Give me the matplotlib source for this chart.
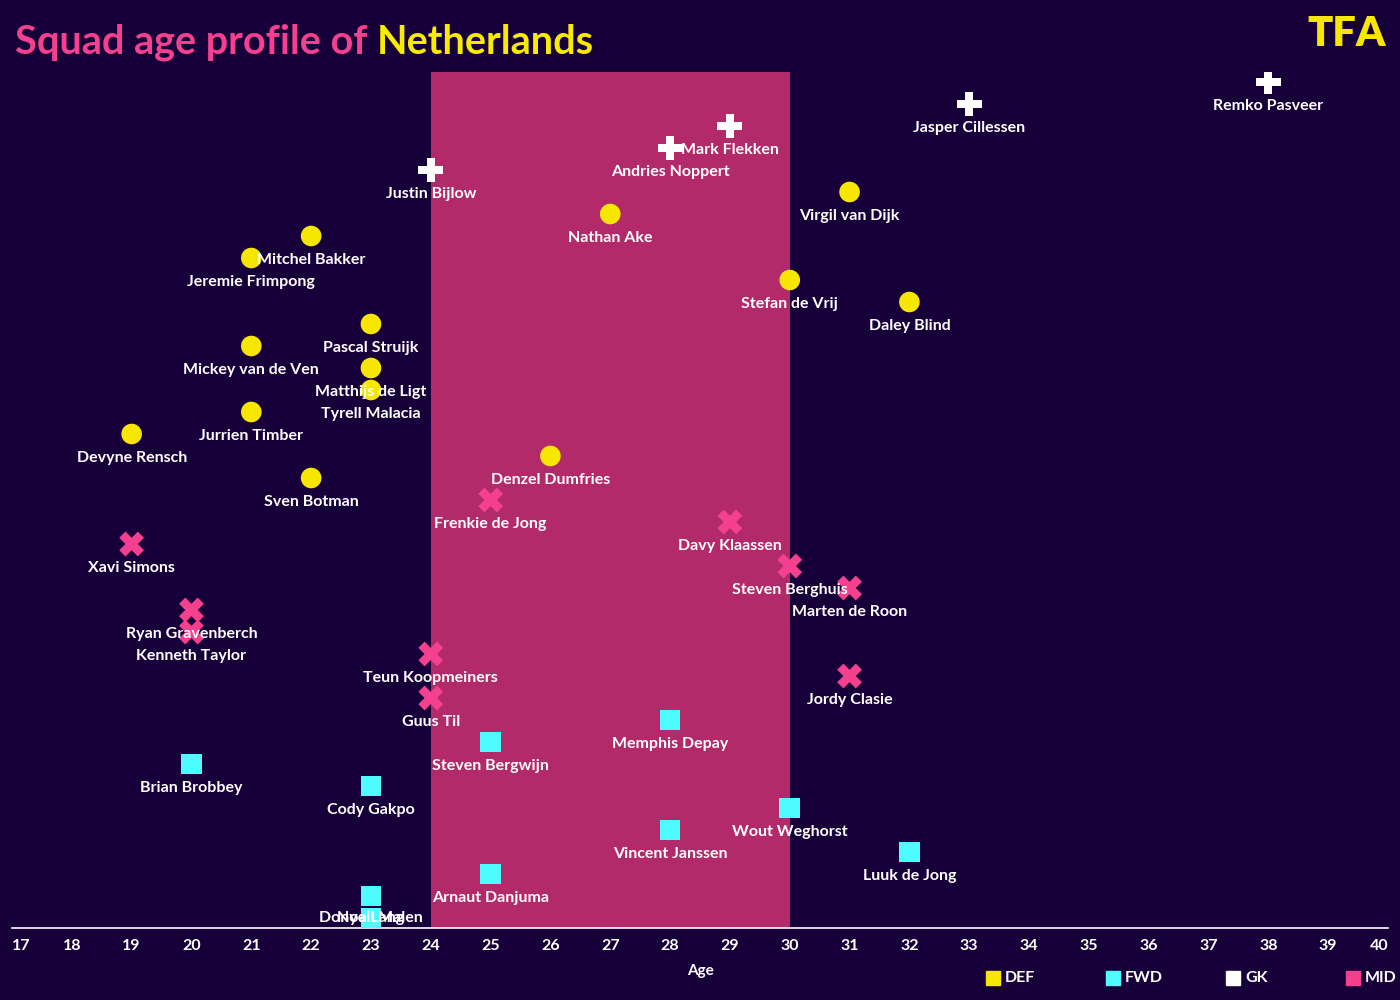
import matplotlib.pyplot as plt

# Данные: игроки в порядке сверху вниз
players = ["Remko Pasveer", "Jasper Cillessen", "Mark Flekken", "Andries Noppert",
           "Justin Bijlow", "Virgil van Dijk", "Nathan Ake", "Mitchel Bakker",
           "Jeremie Frimpong", "Stefan de Vrij", "Daley Blind", "Pascal Struijk",
           "Mickey van de Ven", "Matthijs de Ligt", "Tyrell Malacia", "Jurrien Timber",
           "Devyne Rensch", "Denzel Dumfries", "Sven Botman", "Frenkie de Jong",
           "Davy Klaassen", "Xavi Simons", "Steven Berghuis", "Marten de Roon",
           "Ryan Gravenberch", "Kenneth Taylor", "Teun Koopmeiners", "Jordy Clasie",
           "Guus Til", "Memphis Depay", "Steven Bergwijn", "Brian Brobbey",
           "Cody Gakpo", "Wout Weghorst", "Vincent Janssen", "Luuk de Jong",
           "Arnaut Danjuma", "Donyell Malen", "Noa Lang"]
ages = [38, 33, 29, 28, 24, 31, 27, 22, 21, 30, 32, 23, 21, 23, 23, 21, 19, 26, 22,
        25, 29, 19, 30, 31, 20, 20, 24, 31, 24,
        28, 25, 20, 23, 30, 28, 32, 25, 23, 23]
positions = ["GK"] * 5 + ["DEF"] * 14 + ["MID"] * 10 + ["FWD"] * 10

categories = ["DEF", "FWD", "GK", "MID"]
colors = {"DEF": "#f7e600", "FWD": "#4efcff", "GK": "#ffffff", "MID": "#f5408f"}
markers = {"DEF": "o", "FWD": "s", "GK": "P", "MID": "X"}
sizes = {"DEF": 220, "FWD": 220, "GK": 320, "MID": 320}

age_ticks = list(range(17, 41))
peak_start, peak_end = 24, 30

bg = "#17003a"
band = "#b32a6a"
font = "Lato"

fig = plt.figure(figsize=(14, 10), dpi=100, facecolor=bg)
ax = fig.add_axes([12 / 1400, 72 / 1000, 1376 / 1400, 856 / 1000])
ax.set_facecolor(bg)

n = len(players)
ranks = list(range(n))

ax.axvspan(peak_start, peak_end, color=band, zorder=0, lw=0)

for cat in categories:
    xs = [a for a, p in zip(ages, positions) if p == cat]
    ys = [r for r, p in zip(ranks, positions) if p == cat]
    ax.scatter(xs, ys, s=sizes[cat], marker=markers[cat], c=colors[cat],
               edgecolors="none", zorder=3)

# Подписи под точками (последняя прижата к оси)
for name, a, r in zip(players, ages, ranks):
    ly = min(r + 1.08, n - 1)
    ax.text(a, ly, name, color="white", fontsize=11.5, fontweight="bold",
            family=font, ha="center", va="center", zorder=4)

ax.set_xlim(17, 40)
ax.set_ylim(n - 1 + 10 / 22, -10 / 22)

for s in ["top", "left", "right"]:
    ax.spines[s].set_visible(False)
ax.spines["bottom"].set_color("white")
ax.spines["bottom"].set_linewidth(1.2)
ax.set_yticks([])
ax.set_xticks(age_ticks)
ax.tick_params(axis="x", length=0, pad=8, colors="white")
for lab in ax.get_xticklabels():
    lab.set_fontweight("bold")
    lab.set_fontsize(11.5)
    lab.set_family(font)
labs = ax.get_xticklabels()
labs[0].set_ha("left")
labs[-1].set_ha("right")

ax.set_xlabel("Age", color="white", fontsize=11, fontweight="bold",
              family=font, labelpad=8)

# Заголовок
t1 = fig.text(15 / 1400, 1 - 42 / 1000, "Squad age profile of ", color="#f5408f",
              fontsize=28.5, fontweight="bold", family=font, va="center")
fig.canvas.draw()
bb = t1.get_window_extent()
fig.text(bb.x1 / 1400, 1 - 42 / 1000, "Netherlands", color="#f7ec00",
         fontsize=28.5, fontweight="bold", family=font, va="center")

fig.text(1386 / 1400, 1 - 34 / 1000, "TFA", color="#f7e600", fontsize=30,
         fontweight="heavy", family=font, ha="right", va="center")

# Легенда
for i, c in enumerate(categories):
    x0 = (993 + 120 * i) / 1400
    fig.lines.append(plt.Line2D([x0], [1 - 978 / 1000], marker="s", color=colors[c],
                                markersize=10, ls="none", transform=fig.transFigure))
    fig.text(x0 + 12 / 1400, 1 - 978 / 1000, c, color="white", fontsize=11.5,
             fontweight="bold", family=font, va="center")

fig.savefig("out.png", dpi=100, facecolor=bg)
